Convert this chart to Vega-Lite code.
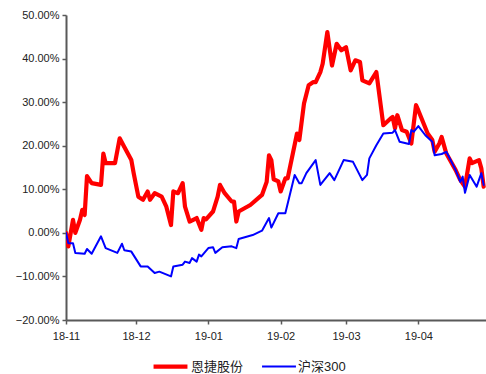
{
  "$schema": "https://vega.github.io/schema/vega-lite/v6.json",
  "width": 420,
  "height": 305,
  "autosize": {"type": "none"},
  "padding": {"left": 66, "top": 15, "right": 0, "bottom": 54},
  "background": "white",
  "config": {
    "view": {"stroke": null},
    "font": "Liberation Sans"
  },
  "data": {"values": [
    {"d":"2018-11-01","v":0,"s":"恩捷股份"},
    {"d":"2018-11-02","v":-3.1,"s":"恩捷股份"},
    {"d":"2018-11-04","v":3,"s":"恩捷股份"},
    {"d":"2018-11-05","v":0,"s":"恩捷股份"},
    {"d":"2018-11-07","v":3,"s":"恩捷股份"},
    {"d":"2018-11-08","v":5.3,"s":"恩捷股份"},
    {"d":"2018-11-09","v":4.1,"s":"恩捷股份"},
    {"d":"2018-11-10","v":13,"s":"恩捷股份"},
    {"d":"2018-11-12","v":11.4,"s":"恩捷股份"},
    {"d":"2018-11-16","v":11,"s":"恩捷股份"},
    {"d":"2018-11-17","v":18.2,"s":"恩捷股份"},
    {"d":"2018-11-18","v":16,"s":"恩捷股份"},
    {"d":"2018-11-22","v":16,"s":"恩捷股份"},
    {"d":"2018-11-24","v":21.7,"s":"恩捷股份"},
    {"d":"2018-11-26","v":19.7,"s":"恩捷股份"},
    {"d":"2018-11-29","v":16.7,"s":"恩捷股份"},
    {"d":"2018-11-30","v":13.7,"s":"恩捷股份"},
    {"d":"2018-12-02","v":8.3,"s":"恩捷股份"},
    {"d":"2018-12-04","v":7.6,"s":"恩捷股份"},
    {"d":"2018-12-06","v":9.5,"s":"恩捷股份"},
    {"d":"2018-12-07","v":7.6,"s":"恩捷股份"},
    {"d":"2018-12-09","v":9.1,"s":"恩捷股份"},
    {"d":"2018-12-12","v":8.3,"s":"恩捷股份"},
    {"d":"2018-12-14","v":6,"s":"恩捷股份"},
    {"d":"2018-12-16","v":1.8,"s":"恩捷股份"},
    {"d":"2018-12-17","v":9.5,"s":"恩捷股份"},
    {"d":"2018-12-19","v":9.1,"s":"恩捷股份"},
    {"d":"2018-12-21","v":11.4,"s":"恩捷股份"},
    {"d":"2018-12-22","v":6,"s":"恩捷股份"},
    {"d":"2018-12-24","v":2.6,"s":"恩捷股份"},
    {"d":"2018-12-27","v":3.4,"s":"恩捷股份"},
    {"d":"2018-12-29","v":0.7,"s":"恩捷股份"},
    {"d":"2018-12-30","v":3.4,"s":"恩捷股份"},
    {"d":"2018-12-31","v":3.1,"s":"恩捷股份"},
    {"d":"2019-01-03","v":4.9,"s":"恩捷股份"},
    {"d":"2019-01-05","v":8.3,"s":"恩捷股份"},
    {"d":"2019-01-06","v":11,"s":"恩捷股份"},
    {"d":"2019-01-08","v":9.1,"s":"恩捷股份"},
    {"d":"2019-01-11","v":7.2,"s":"恩捷股份"},
    {"d":"2019-01-12","v":7.2,"s":"恩捷股份"},
    {"d":"2019-01-13","v":2.6,"s":"恩捷股份"},
    {"d":"2019-01-14","v":4.9,"s":"恩捷股份"},
    {"d":"2019-01-19","v":6.4,"s":"恩捷股份"},
    {"d":"2019-01-24","v":8.7,"s":"恩捷股份"},
    {"d":"2019-01-26","v":11.7,"s":"恩捷股份"},
    {"d":"2019-01-27","v":17.8,"s":"恩捷股份"},
    {"d":"2019-01-28","v":16.7,"s":"恩捷股份"},
    {"d":"2019-01-29","v":12.3,"s":"恩捷股份"},
    {"d":"2019-01-31","v":11.8,"s":"恩捷股份"},
    {"d":"2019-02-01","v":9.5,"s":"恩捷股份"},
    {"d":"2019-02-03","v":12.5,"s":"恩捷股份"},
    {"d":"2019-02-04","v":12.5,"s":"恩捷股份"},
    {"d":"2019-02-08","v":22.8,"s":"恩捷股份"},
    {"d":"2019-02-09","v":21.3,"s":"恩捷股份"},
    {"d":"2019-02-11","v":29.7,"s":"恩捷股份"},
    {"d":"2019-02-13","v":33.9,"s":"恩捷股份"},
    {"d":"2019-02-15","v":34.6,"s":"恩捷股份"},
    {"d":"2019-02-16","v":34.6,"s":"恩捷股份"},
    {"d":"2019-02-18","v":36.9,"s":"恩捷股份"},
    {"d":"2019-02-19","v":38.8,"s":"恩捷股份"},
    {"d":"2019-02-21","v":46.1,"s":"恩捷股份"},
    {"d":"2019-02-23","v":38.4,"s":"恩捷股份"},
    {"d":"2019-02-25","v":43.4,"s":"恩捷股份"},
    {"d":"2019-02-27","v":41.9,"s":"恩捷股份"},
    {"d":"2019-03-01","v":42.6,"s":"恩捷股份"},
    {"d":"2019-03-03","v":37.3,"s":"恩捷股份"},
    {"d":"2019-03-05","v":39.6,"s":"恩捷股份"},
    {"d":"2019-03-07","v":39.2,"s":"恩捷股份"},
    {"d":"2019-03-08","v":35,"s":"恩捷股份"},
    {"d":"2019-03-11","v":34.3,"s":"恩捷股份"},
    {"d":"2019-03-14","v":36.9,"s":"恩捷股份"},
    {"d":"2019-03-17","v":24.7,"s":"恩捷股份"},
    {"d":"2019-03-20","v":26.2,"s":"恩捷股份"},
    {"d":"2019-03-21","v":26.6,"s":"恩捷股份"},
    {"d":"2019-03-22","v":24,"s":"恩捷股份"},
    {"d":"2019-03-23","v":27,"s":"恩捷股份"},
    {"d":"2019-03-25","v":23.6,"s":"恩捷股份"},
    {"d":"2019-03-27","v":23.2,"s":"恩捷股份"},
    {"d":"2019-03-29","v":20.5,"s":"恩捷股份"},
    {"d":"2019-03-31","v":29.3,"s":"恩捷股份"},
    {"d":"2019-04-01","v":28.1,"s":"恩捷股份"},
    {"d":"2019-04-05","v":22.8,"s":"恩捷股份"},
    {"d":"2019-04-07","v":21.3,"s":"恩捷股份"},
    {"d":"2019-04-08","v":18.6,"s":"恩捷股份"},
    {"d":"2019-04-10","v":20.5,"s":"恩捷股份"},
    {"d":"2019-04-11","v":22,"s":"恩捷股份"},
    {"d":"2019-04-13","v":18.2,"s":"恩捷股份"},
    {"d":"2019-04-17","v":14.4,"s":"恩捷股份"},
    {"d":"2019-04-19","v":12.1,"s":"恩捷股份"},
    {"d":"2019-04-21","v":10.6,"s":"恩捷股份"},
    {"d":"2019-04-23","v":17.1,"s":"恩捷股份"},
    {"d":"2019-04-24","v":16,"s":"恩捷股份"},
    {"d":"2019-04-27","v":16.7,"s":"恩捷股份"},
    {"d":"2019-04-28","v":14.8,"s":"恩捷股份"},
    {"d":"2019-04-29","v":10.6,"s":"恩捷股份"},
    {"d":"2018-11-01","v":0,"s":"沪深300"},
    {"d":"2018-11-02","v":-2.4,"s":"沪深300"},
    {"d":"2018-11-04","v":-2.4,"s":"沪深300"},
    {"d":"2018-11-05","v":-4.6,"s":"沪深300"},
    {"d":"2018-11-09","v":-4.8,"s":"沪深300"},
    {"d":"2018-11-10","v":-3.7,"s":"沪深300"},
    {"d":"2018-11-12","v":-4.8,"s":"沪深300"},
    {"d":"2018-11-16","v":-0.8,"s":"沪深300"},
    {"d":"2018-11-18","v":-3.5,"s":"沪深300"},
    {"d":"2018-11-23","v":-4.6,"s":"沪深300"},
    {"d":"2018-11-25","v":-2.5,"s":"沪深300"},
    {"d":"2018-11-26","v":-4,"s":"沪深300"},
    {"d":"2018-11-29","v":-4.3,"s":"沪深300"},
    {"d":"2018-12-03","v":-7.7,"s":"沪深300"},
    {"d":"2018-12-06","v":-7.7,"s":"沪深300"},
    {"d":"2018-12-09","v":-9.2,"s":"沪深300"},
    {"d":"2018-12-11","v":-8.9,"s":"沪深300"},
    {"d":"2018-12-16","v":-10,"s":"沪深300"},
    {"d":"2018-12-17","v":-7.7,"s":"沪深300"},
    {"d":"2018-12-21","v":-7.3,"s":"沪深300"},
    {"d":"2018-12-22","v":-6.6,"s":"沪深300"},
    {"d":"2018-12-24","v":-6.9,"s":"沪深300"},
    {"d":"2018-12-25","v":-5.8,"s":"沪深300"},
    {"d":"2018-12-27","v":-6.6,"s":"沪深300"},
    {"d":"2018-12-28","v":-5,"s":"沪深300"},
    {"d":"2018-12-29","v":-5.4,"s":"沪深300"},
    {"d":"2019-01-01","v":-3.5,"s":"沪深300"},
    {"d":"2019-01-03","v":-3.3,"s":"沪深300"},
    {"d":"2019-01-04","v":-4.6,"s":"沪深300"},
    {"d":"2019-01-07","v":-3.3,"s":"沪深300"},
    {"d":"2019-01-11","v":-3.1,"s":"沪深300"},
    {"d":"2019-01-13","v":-3.5,"s":"沪深300"},
    {"d":"2019-01-14","v":-1.4,"s":"沪深300"},
    {"d":"2019-01-20","v":-0.5,"s":"沪深300"},
    {"d":"2019-01-24","v":0.5,"s":"沪深300"},
    {"d":"2019-01-27","v":3.4,"s":"沪深300"},
    {"d":"2019-01-28","v":1.2,"s":"沪深300"},
    {"d":"2019-01-31","v":4.5,"s":"沪深300"},
    {"d":"2019-02-03","v":4.5,"s":"沪深300"},
    {"d":"2019-02-07","v":13.3,"s":"沪深300"},
    {"d":"2019-02-09","v":11.4,"s":"沪深300"},
    {"d":"2019-02-10","v":11.4,"s":"沪深300"},
    {"d":"2019-02-12","v":13.7,"s":"沪深300"},
    {"d":"2019-02-14","v":15.2,"s":"沪深300"},
    {"d":"2019-02-16","v":16.7,"s":"沪深300"},
    {"d":"2019-02-18","v":11,"s":"沪深300"},
    {"d":"2019-02-22","v":13.7,"s":"沪深300"},
    {"d":"2019-02-24","v":12.1,"s":"沪深300"},
    {"d":"2019-02-28","v":16.7,"s":"沪深300"},
    {"d":"2019-03-04","v":16.3,"s":"沪深300"},
    {"d":"2019-03-08","v":12.1,"s":"沪深300"},
    {"d":"2019-03-10","v":13.3,"s":"沪深300"},
    {"d":"2019-03-11","v":17.1,"s":"沪深300"},
    {"d":"2019-03-14","v":20.1,"s":"沪深300"},
    {"d":"2019-03-17","v":22.8,"s":"沪深300"},
    {"d":"2019-03-21","v":23,"s":"沪深300"},
    {"d":"2019-03-22","v":23.6,"s":"沪深300"},
    {"d":"2019-03-24","v":20.9,"s":"沪深300"},
    {"d":"2019-03-28","v":20.4,"s":"沪深300"},
    {"d":"2019-03-29","v":23.6,"s":"沪深300"},
    {"d":"2019-03-30","v":23.2,"s":"沪深300"},
    {"d":"2019-04-01","v":24.5,"s":"沪深300"},
    {"d":"2019-04-04","v":22.4,"s":"沪深300"},
    {"d":"2019-04-07","v":20.9,"s":"沪深300"},
    {"d":"2019-04-08","v":17.8,"s":"沪深300"},
    {"d":"2019-04-11","v":18.1,"s":"沪深300"},
    {"d":"2019-04-13","v":18.6,"s":"沪深300"},
    {"d":"2019-04-17","v":14.4,"s":"沪深300"},
    {"d":"2019-04-19","v":11.7,"s":"沪深300"},
    {"d":"2019-04-20","v":12.9,"s":"沪深300"},
    {"d":"2019-04-21","v":9.2,"s":"沪深300"},
    {"d":"2019-04-23","v":13.3,"s":"沪深300"},
    {"d":"2019-04-26","v":10.6,"s":"沪深300"},
    {"d":"2019-04-28","v":13.7,"s":"沪深300"},
    {"d":"2019-04-29","v":11,"s":"沪深300"}
  ]},
  "mark": {"type": "line", "interpolate": "linear", "strokeJoin": "round", "strokeCap": "round", "clip": true},
  "encoding": {
    "x": {
      "field": "d", "type": "temporal",
      "scale": {"domain": ["2018-11-01T00:00:00", "2019-04-30T00:00:00"]},
      "axis": {
        "title": null, "grid": false, "format": "%y-%m",
        "values": ["2018-11-01T00:00:00","2018-12-01T00:00:00","2019-01-01T00:00:00","2019-02-01T00:00:00","2019-03-01T00:00:00","2019-04-01T00:00:00"],
        "domainColor": "#595959", "domainWidth": 2, "tickColor": "#595959", "tickWidth": 1.5, "tickSize": 4,
        "labelColor": "#222222", "labelFontSize": 11, "labelPadding": 6, "labelFlush": false
      }
    },
    "y": {
      "field": "v", "type": "quantitative",
      "scale": {"domain": [-20, 50], "nice": false, "zero": false},
      "axis": {
        "title": null, "grid": false, "values": [-20,-10,0,10,20,30,40,50],
        "labelExpr": "format(datum.value, '.2f') + '%'",
        "domainColor": "#595959", "domainWidth": 2, "tickColor": "#595959", "tickWidth": 1.5, "tickSize": 4,
        "labelColor": "#222222", "labelFontSize": 11, "labelPadding": 3
      }
    },
    "color": {
      "field": "s", "type": "nominal",
      "scale": {"domain": ["恩捷股份", "沪深300"], "range": ["#ff0000", "#0000ff"]},
      "legend": {
        "title": null, "orient": "none", "legendX": 85, "legendY": 332, "direction": "horizontal",
        "symbolType": "stroke", "symbolSize": 1150,
        "labelFont": "Liberation Sans, Noto Sans CJK SC", "labelFontSize": 13, "labelColor": "#222222",
        "columnPadding": 14, "symbolOffset": 0, "labelOffset": 1
      }
    },
    "strokeWidth": {
      "field": "s", "type": "nominal",
      "scale": {"domain": ["恩捷股份", "沪深300"], "range": [4.2, 2]},
      "legend": {
        "title": null, "orient": "none", "legendX": 85, "legendY": 332, "direction": "horizontal",
        "symbolType": "stroke", "symbolSize": 1150,
        "labelFont": "Liberation Sans, Noto Sans CJK SC", "labelFontSize": 13, "labelColor": "#222222",
        "columnPadding": 14, "symbolOffset": 0, "labelOffset": 1
      }
    },
    "order": {"field": "s", "sort": "ascending"}
  }
}
